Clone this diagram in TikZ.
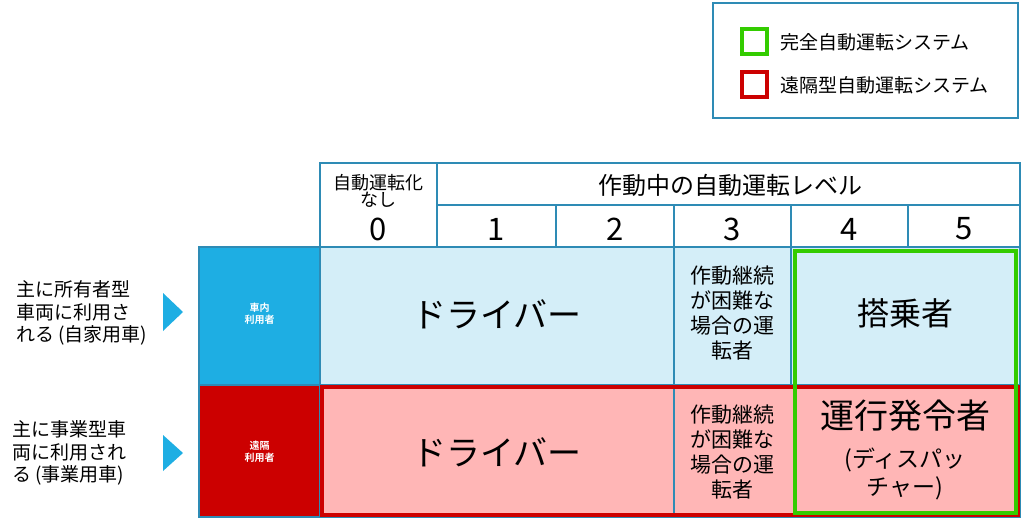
\documentclass[tikz,border=0pt]{standalone}
\usepackage{fontspec}
\setmainfont{Noto Sans CJK JP}[BoldFont={Noto Sans CJK JP Bold}]
\begin{document}
\begin{tikzpicture}[x=1pt,y=-1pt,
  grid/.style={draw=gridc,line width=2pt},
  tx/.style={inner sep=0pt,align=center,font=\fontsize{#1}{\dimexpr#1pt*6/5\relax}\selectfont},
]
\definecolor{gridc}{HTML}{2E8BB5}
\definecolor{bluec}{HTML}{1EAEE3}
\definecolor{lblue}{HTML}{D4EEF8}
\definecolor{redc}{HTML}{CC0000}
\definecolor{pinkc}{HTML}{FFB6B6}
\definecolor{greenc}{HTML}{33CC00}
\useasboundingbox (0,0) rectangle (1024,521);
% legend
\draw[draw=gridc,line width=1.5pt] (713,3) rectangle (1018,118);
\draw[greenc,line width=3.5pt] (742,29) rectangle (767,54);
\draw[redc,line width=3.5pt] (742,72) rectangle (767,97);
\node[tx=19,anchor=west] (lg1) at (780,42) {完全自動運転システム};
\node[tx=19,anchor=west] (lg2) at (780,85) {遠隔型自動運転システム};
% header
\draw[grid,fill=white] (320,163) rectangle (1020,247);
\draw[grid] (437,163) -- (437,247);
\draw[grid] (437,205) -- (1020,205);
\foreach \x in {556,674,791,908} \draw[grid] (\x,205) -- (\x,247);
\node[tx=18] (h0) at (378.5,191) {自動運転化\\[-4pt]なし};
\node[tx=31] (n0) at (378.5,229) {0};
\node[tx=24] (hl) at (730,185) {作動中の自動運転レベル};
\node[tx=31] (n1) at (496.5,229) {1};
\node[tx=31] (n2) at (615,229) {2};
\node[tx=31] (n3) at (732.5,229) {3};
\node[tx=31] (n4) at (849.5,229) {4};
\node[tx=31] (n5) at (964,229) {5};
% row 1
\draw[grid,fill=bluec] (199,247) rectangle (320,385);
\draw[grid,fill=lblue] (320,247) rectangle (1020,385);
\draw[grid] (674,247) -- (674,385);
\draw[grid] (791,247) -- (791,385);
\node[tx=28,text=white,font=\bfseries] (r1) at (259.5,314) {車内\\利用者};
\node[tx=34] (d1) at (497,314) {ドライバー};
\node[tx=21] (c1) at (732.5,313) {作動継続\\が困難な\\場合の運\\転者};
\node[tx=32] (p1) at (905,313) {搭乗者};
% row 2
\draw[grid,fill=redc] (199,385) rectangle (320,517);
\draw[grid,fill=pinkc] (320,385) rectangle (1020,517);
\draw[grid] (674,385) -- (674,517);
\draw[redc,line width=4pt] (322,387) rectangle (1018,515);
\node[tx=28,text=white,font=\bfseries] (r2) at (259.5,452) {遠隔\\利用者};
\node[tx=34] (d2) at (497,452) {ドライバー};
\node[tx=21] (c2) at (732.5,452) {作動継続\\が困難な\\場合の運\\転者};
\node[tx=34] (p2) at (905,416) {運行発令者};
\node[tx=23] (p3) at (905,474) {(ディスパッ\\チャー)};
% green
\draw[greenc,line width=4pt] (795,251) rectangle (1016,513);
% left labels
\node[tx=19,align=left,anchor=west] (l1) at (16,313) {主に所有者型\\車両に利用さ\\れる (自家用車)};
\node[tx=19,align=left,anchor=west] (l2) at (12,453) {主に事業型車\\両に利用され\\る (事業用車)};
\fill[bluec] (163,293) -- (183,312) -- (163,331) -- cycle;
\fill[bluec] (163,435) -- (183,453) -- (163,471) -- cycle;
\end{tikzpicture}
\end{document}
